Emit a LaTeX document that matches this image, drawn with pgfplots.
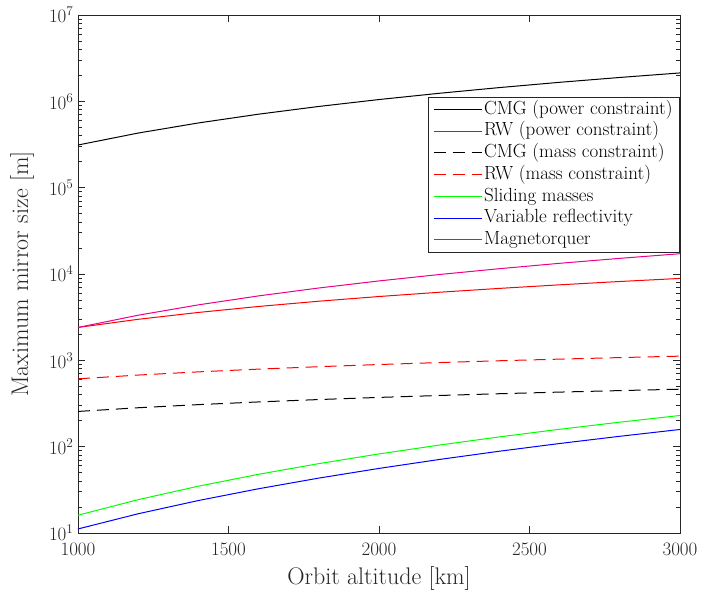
\RequirePackage{fix-cm}
\documentclass[border=0pt]{standalone}
\usepackage{pgfplots}
\usepackage{pgfplotstable}
\pgfplotsset{compat=1.18}

% Maximum mirror size per attitude actuator versus orbit altitude
\pgfplotstableread{
h     cmgP      rwP    cmgM   rwM     slide  vref   mtq
1000  311900    2404   255.9  610.9   16.07  11.14  2404
1200  429200    2988   282.4  675.2   24.34  16.71  3332
1400  561800    3588   306.9  735.3   34.85  23.78  4391
1600  709900    4207   329.8  791.2   47.87  32.56  5577
1800  872400    4839   351.4  844.0   63.62  43.25  6885
2000  1049000   5486   372.0  894.4   82.37  55.99  8313
2200  1239000   6145   391.6  942.5   104.3  71.04  9860
2400  1443000   6813   410.5  988.8   129.8  88.57  11520
2600  1661000   7496   428.7  1033    159.0  108.8  13300
2800  1890000   8188   446.2  1076    192.2  131.9  15180
3000  2133000   8888   463.1  1118    229.8  158.2  17180
}\mirrordata

\definecolor{axgray}{gray}{0.15}

\begin{document}
\begin{tikzpicture}
\begin{axis}[
  name=ax,
  scale only axis,
  width=602pt, height=518pt,
  ymode=log,
  xmin=1000, xmax=3000,
  ymin=10, ymax=1e7,
  xtick={1000,1500,2000,2500,3000},
  ytick={10,100,1000,10000,100000,1000000,10000000},
  minor x tick num=0,
  tick align=inside,
  major tick length=7pt,
  minor tick length=4pt,
  axis line style={axgray, line width=0.8pt},
  every tick/.style={axgray, line width=0.7pt},
  tick label style={font=\fontsize{19}{22}\selectfont, axgray},
  label style={font=\fontsize{24}{28}\selectfont, axgray},
  xlabel={Orbit altitude [km]},
  ylabel={Maximum mirror size [m]},
  xlabel style={at={(axis description cs:0.5,-0.087)}, anchor=center},
  ylabel style={at={(axis description cs:-0.093,0.5)}, anchor=center},
  xticklabel style={/pgf/number format/1000 sep={}, yshift=-7pt},
  yticklabel style={xshift=-1pt},
  legend cell align=left,
  legend image code/.code={\draw[line width=1pt,#1] (0pt,0pt) -- (48pt,0pt);},
  legend style={
    at={(1,0.842)}, anchor=north east,
    draw=axgray, line width=0.8pt,
    font=\fontsize{19}{22}\selectfont,
    inner xsep=5pt, inner ysep=3pt,
    row sep=3pt,
    nodes={inner xsep=2pt, inner ysep=0pt, text height=14pt, text depth=4.7pt},
  },
]
\addplot[black, line width=1pt] table[x=h, y=cmgP] {\mirrordata};
\addlegendentry{CMG (power constraint)}
\addplot[red, line width=1pt] table[x=h, y=rwP] {\mirrordata};
\addlegendentry{RW (power constraint)}
\addplot[black, line width=1pt, dash pattern=on 12pt off 7pt] table[x=h, y=cmgM] {\mirrordata};
\addlegendentry{CMG (mass constraint)}
\addplot[red, line width=1pt, dash pattern=on 12pt off 7pt] table[x=h, y=rwM] {\mirrordata};
\addlegendentry{RW (mass constraint)}
\addplot[green, line width=1pt] table[x=h, y=slide] {\mirrordata};
\addlegendentry{Sliding masses}
\addplot[blue, line width=1pt] table[x=h, y=vref] {\mirrordata};
\addlegendentry{Variable reflectivity}
\addplot[magenta, line width=1pt] table[x=h, y=mtq] {\mirrordata};
\addlegendentry{Magnetorquer}
\end{axis}
\pgfresetboundingbox
\path (ax.south west) +(-78pt,-62pt) (ax.north east) +(21pt,15pt);
\end{tikzpicture}
\end{document}
